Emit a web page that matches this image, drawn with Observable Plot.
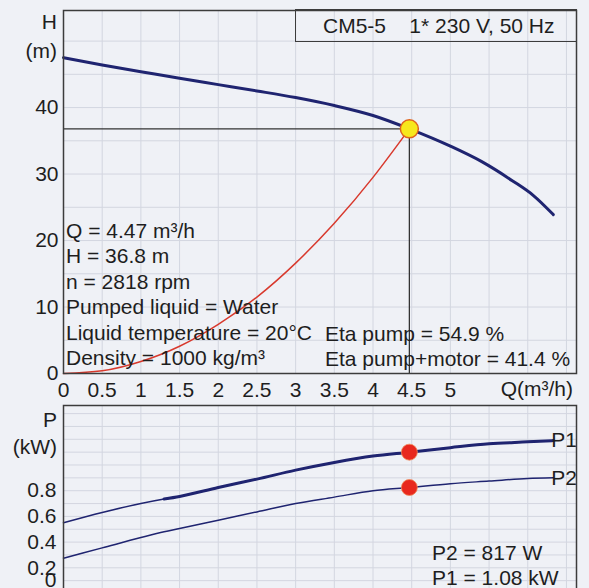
<!DOCTYPE html>
<html><head><meta charset="utf-8">
<script src="https://cdn.jsdelivr.net/npm/d3@7"></script>
<script src="https://cdn.jsdelivr.net/npm/@observablehq/plot@0.6"></script>
<style>
html,body{margin:0;padding:0;background:#eff1f6;}
#wrap{position:relative;width:589px;height:588px;overflow:hidden;background:#eff1f6;font-family:"Liberation Sans",Arial,sans-serif;color:#1e1e1e;}
#wrap svg{position:absolute;left:0;overflow:visible;}
.t{position:absolute;font-size:21px;line-height:21px;white-space:pre;}
.box{position:absolute;border:1.5px solid #3c3c3c;box-sizing:border-box;}
</style></head><body><div id="wrap"></div>
<script>
// ---- data ----
const qTicks = [0, 0.5, 1, 1.5, 2, 2.5, 3, 3.5, 4, 4.5, 5];
const hTicks = [0, 10, 20, 30, 40];
const pTicks = [0.2, 0.4, 0.6, 0.8];
const qGrid = [0.5, 1, 1.5, 2, 2.5, 3, 3.5, 4, 4.5, 5, 5.5, 6, 6.5];
const hGrid = [5, 10, 15, 20, 25, 30, 35, 40, 45, 50];
const pGrid = [0.1, 0.2, 0.3, 0.4, 0.5, 0.6, 0.7, 0.8, 0.9, 1.0, 1.1, 1.2, 1.3, 1.4];

const pumpQ = [0, 0.5, 1, 1.5, 2, 2.5, 3, 3.5, 4, 4.47, 5, 5.4, 5.8, 6.07, 6.33];
const pumpH = [47.5, 46.4, 45.4, 44.4, 43.45, 42.5, 41.5, 40.3, 38.8, 36.8, 34.2, 31.9, 29.0, 26.8, 23.9];

const sysQ = [0, 0.5, 1, 1.5, 2, 2.5, 3, 3.5, 4, 4.47];
const sysH = [0, 0.4, 1.8, 4.1, 7.4, 11.5, 16.6, 22.6, 29.5, 36.8];

const powQ = [0, 0.5, 1, 1.3, 1.5, 2, 2.5, 3, 3.5, 4, 4.47, 5, 5.5, 6, 6.33];
const p1 = [0.55, 0.63, 0.70, 0.735, 0.755, 0.825, 0.89, 0.96, 1.02, 1.07, 1.10, 1.135, 1.165, 1.18, 1.19];
const p2 = [0.275, 0.355, 0.435, 0.48, 0.505, 0.57, 0.635, 0.70, 0.75, 0.80, 0.825, 0.855, 0.875, 0.895, 0.90];
const p1ThickFrom = 1.3;

const opQ = 4.47, opH = 36.8, opP1 = 1.10, opP2 = 0.825;

const title = "CM5-5    1* 230 V, 50 Hz";
const infoLines = ["Q = 4.47 m³/h", "H = 36.8 m", "n = 2818 rpm", "Pumped liquid = Water", "Liquid temperature = 20°C", "Density = 1000 kg/m³"];
const etaLines = ["Eta pump = 54.9 %", "Eta pump+motor = 41.4 %"];
const powLines = ["P2 = 817 W", "P1 = 1.08 kW"];
const seriesNames = ["P1", "P2"];

// ---- tables ----
const pump = pumpQ.map((q, i) => ({q, h: pumpH[i]}));
const sys = sysQ.map((q, i) => ({q, h: sysH[i]}));
const pw1 = powQ.map((q, i) => ({q, p: p1[i]}));
const pw2 = powQ.map((q, i) => ({q, p: p2[i]}));
const ends = [{q: powQ[powQ.length - 1], p: p1[p1.length - 1], name: seriesNames[0]},
              {q: powQ[powQ.length - 1], p: p2[p2.length - 1], name: seriesNames[1]}];

const FONT = '"Liberation Sans", Arial, sans-serif';
const NAVY = "#1f2470", GRID = "#d3d6e0", FRAME = "#3c3c3c";
const wrap = document.getElementById("wrap");

const topPlot = Plot.plot({
  width: 589, height: 400, marginLeft: 63, marginRight: 13, marginTop: 10, marginBottom: 27,
  style: {background: "transparent", fontFamily: FONT, fontSize: "21px", color: "#1e1e1e"},
  x: {domain: [0, 6.63]}, y: {domain: [0, 54.6]},
  marks: [
    Plot.gridX(qGrid, {stroke: GRID, strokeOpacity: 1}),
    Plot.gridY(hGrid, {stroke: GRID, strokeOpacity: 1}),
    Plot.ruleY([opH], {x1: 0, x2: opQ, stroke: "#333", strokeWidth: 1.3}),
    Plot.ruleX([opQ], {y1: 0, y2: opH, stroke: "#333", strokeWidth: 1.3}),
    Plot.line(sys, {x: "q", y: "h", stroke: "#d8392d", strokeWidth: 1.5, curve: "natural"}),
    Plot.line(pump, {x: "q", y: "h", stroke: NAVY, strokeWidth: 3, curve: "monotone-x"}),
    Plot.dot([{q: opQ, h: opH}], {x: "q", y: "h", r: 9, fill: "#f7e81c", stroke: "#e0641e", strokeWidth: 1.5}),
    Plot.frame({stroke: FRAME, strokeWidth: 1.5}),
    Plot.axisX({ticks: qTicks, tickSize: 0, tickPadding: 9, tickFormat: d => String(d), fontSize: 21, label: null}),
    Plot.axisY({ticks: hTicks, tickSize: 0, tickPadding: 5, tickFormat: d => String(d), fontSize: 21, label: null})
  ]
});
topPlot.style.top = "0px";
wrap.append(topPlot);

const botPlot = Plot.plot({
  width: 589, height: 193, marginLeft: 63, marginRight: 13, marginTop: 5, marginBottom: 0,
  style: {background: "transparent", fontFamily: FONT, fontSize: "21px", color: "#1e1e1e"},
  x: {domain: [0, 6.63], axis: null}, y: {domain: [0, 1.463]},
  marks: [
    Plot.gridX(qGrid, {stroke: GRID, strokeOpacity: 1}),
    Plot.gridY(pGrid, {stroke: GRID, strokeOpacity: 1}),
    Plot.line(pw2, {x: "q", y: "p", stroke: NAVY, strokeWidth: 1.5, curve: "monotone-x"}),
    Plot.line(pw1, {x: "q", y: "p", stroke: NAVY, strokeWidth: 1.5, curve: "monotone-x"}),
    Plot.line(pw1.filter(d => d.q >= p1ThickFrom), {x: "q", y: "p", stroke: NAVY, strokeWidth: 3, curve: "monotone-x"}),
    Plot.dot([{q: opQ, p: opP1}, {q: opQ, p: opP2}], {x: "q", y: "p", r: 8, fill: "#e8281e", stroke: "#f08a5a", strokeWidth: 0.8}),
    Plot.text(ends, {x: "q", y: "p", text: "name", textAnchor: "start", dx: -2, fontSize: 21, fill: "#1e1e1e"}),
    Plot.frame({stroke: FRAME, strokeWidth: 1.5}),
    Plot.axisY({ticks: pTicks, tickSize: 0, tickPadding: 7, tickFormat: d => String(d), fontSize: 21, label: null}),
    Plot.text([0], {y: d => d, frameAnchor: "left", dx: -7, dy: -13, textAnchor: "end", text: d => String(d), fontSize: 21, fill: "#1e1e1e"})
  ]
});
botPlot.style.top = "400px";
wrap.append(botPlot);

// ---- HTML text ----
function put(txt, x, cy, anchor) {
  const d = document.createElement("div");
  d.className = "t";
  d.textContent = txt;
  d.style.top = (cy - 10.3) + "px";
  if (anchor === "end") d.style.right = (589 - x) + "px";
  else d.style.left = x + "px";
  wrap.append(d);
}
const box = document.createElement("div");
box.className = "box";
Object.assign(box.style, {left: "295px", top: "9px", width: "282px", height: "33px"});
wrap.append(box);
put(title, 323, 25);

put("H", 57, 21, "end");
put("(m)", 57, 50, "end");
put("P", 57, 419, "end");
put("(kW)", 57, 446, "end");
put("Q(m³/h)", 573, 388, "end");

infoLines.forEach((s, i) => put(s, 66, 230 + i * 25.5));
etaLines.forEach((s, i) => put(s, 325, 333 + i * 25));
powLines.forEach((s, i) => put(s, 432, 552 + i * 25));
</script></body></html>
